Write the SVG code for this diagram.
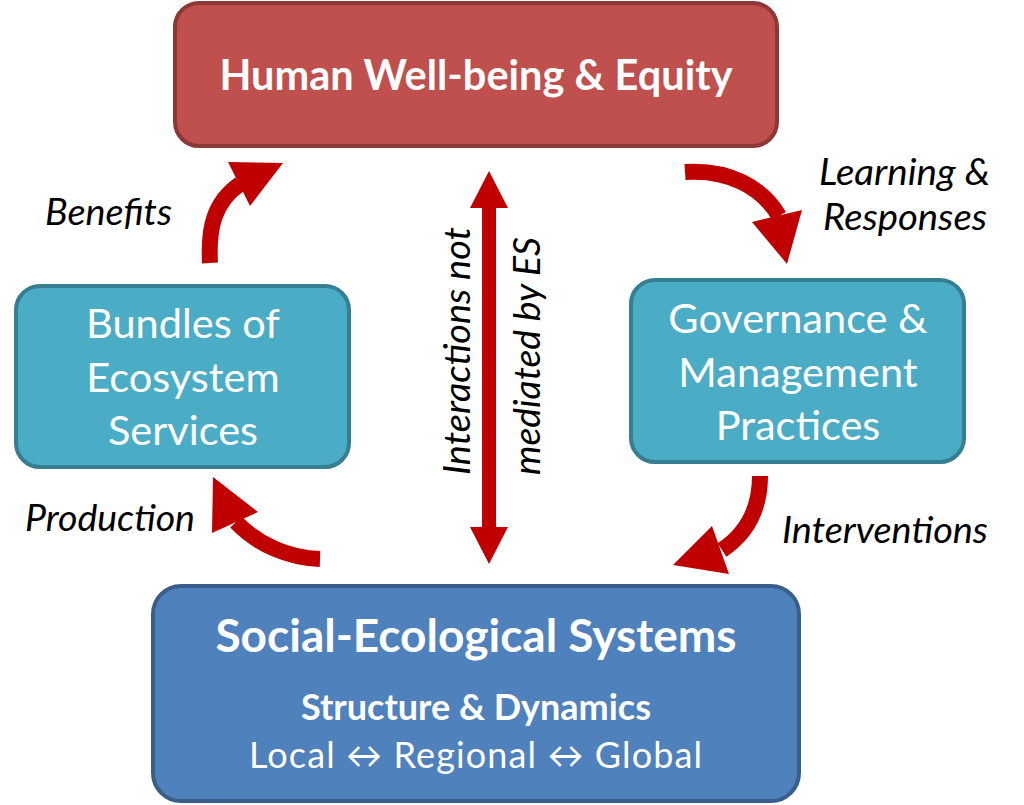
<svg xmlns="http://www.w3.org/2000/svg" width="1024" height="805" viewBox="0 0 1024 805">
<style>
.box{stroke-width:4}
.red{fill:#C0504D;stroke:#8C3836}
.cyan{fill:#4BACC6;stroke:#367E92}
.blue{fill:#4F81BD;stroke:#3A5E8C}
.t{font-family:Lato,"Open Sans","Liberation Sans",sans-serif;fill:#fff;text-anchor:middle}
.b{font-weight:bold}
.lbl{font-family:Lato,"Open Sans","Liberation Sans",sans-serif;font-style:italic;fill:#000;font-size:37px}
.shaft{fill:none;stroke:#C00000;stroke-width:16}
.head{fill:#C00000;stroke:none}
</style>
<rect width="1024" height="805" fill="#fff"/>
<g id="connectors">
  <g id="benefits">
    <path class="shaft" d="M210,263 C208,228 214,202 240,184"/>
    <polygon class="head" points="228,162 283,163 250,206"/>
  </g>
  <g id="learning">
    <path class="shaft" d="M685,172 C728,169 762,187 779,216"/>
    <polygon class="head" points="752,222 802,210 787,264"/>
  </g>
  <g id="interventions">
    <path class="shaft" d="M760,476 C760,510 746,534 722,550"/>
    <polygon class="head" points="712,526 729,574 673,565"/>
  </g>
  <g id="production">
    <path class="shaft" d="M320,559 C289,558 258,545 236,522"/>
    <polygon class="head" points="213,477 258,512 212,533"/>
  </g>
  <g id="interactions">
    <polygon class="head" points="489,171 508,208 496,208 496,527 508,527 489,564 470,527 482,527 482,208 470,208"/>
  </g>
</g>
<g id="labels">
  <text class="lbl" x="45" y="225" textLength="127" lengthAdjust="spacingAndGlyphs">Benefits</text>
  <text class="lbl" x="819" y="185" textLength="171" lengthAdjust="spacingAndGlyphs">Learning &amp;</text>
  <text class="lbl" x="823" y="230" textLength="164" lengthAdjust="spacingAndGlyphs">Responses</text>
  <text class="lbl" x="25" y="531" textLength="170" lengthAdjust="spacingAndGlyphs">Production</text>
  <text class="lbl" x="782" y="543" textLength="206" lengthAdjust="spacingAndGlyphs">Interventions</text>
  <text class="lbl" transform="translate(470,351) rotate(-90)" x="-124" textLength="248" lengthAdjust="spacingAndGlyphs">Interactions not</text>
  <text class="lbl" transform="translate(540,356) rotate(-90)" x="-119" textLength="238" lengthAdjust="spacingAndGlyphs">mediated by ES</text>
</g>
<g id="human-wellbeing">
  <rect class="box red" x="175" y="3" width="602" height="143" rx="24"/>
  <text class="t b" x="476" y="90" font-size="41.5">Human Well-being &amp; Equity</text>
</g>
<g id="bundles">
  <rect class="box cyan" x="16" y="286" width="333" height="181" rx="24"/>
  <text class="t" x="183" y="338" font-size="41.5">Bundles of</text>
  <text class="t" x="183" y="392" font-size="41.5">Ecosystem</text>
  <text class="t" x="183" y="445" font-size="41.5">Services</text>
</g>
<g id="governance">
  <rect class="box cyan" x="631" y="280" width="333" height="182" rx="24"/>
  <text class="t" x="798" y="333" font-size="41.5">Governance &amp;</text>
  <text class="t" x="798" y="387" font-size="41.5">Management</text>
  <text class="t" x="798" y="440" font-size="41.5">Practices</text>
</g>
<g id="ses">
  <rect class="box blue" x="153" y="586" width="646" height="215" rx="28"/>
  <text class="t b" x="476" y="652" font-size="46">Social-Ecological Systems</text>
  <text class="t b" x="476" y="720" font-size="36">Structure &amp; Dynamics</text>
  <text class="t" x="249" y="768" font-size="36" text-anchor="start" style="text-anchor:start" textLength="453" lengthAdjust="spacing">Local ↔ Regional ↔ Global</text>
</g>
</svg>
